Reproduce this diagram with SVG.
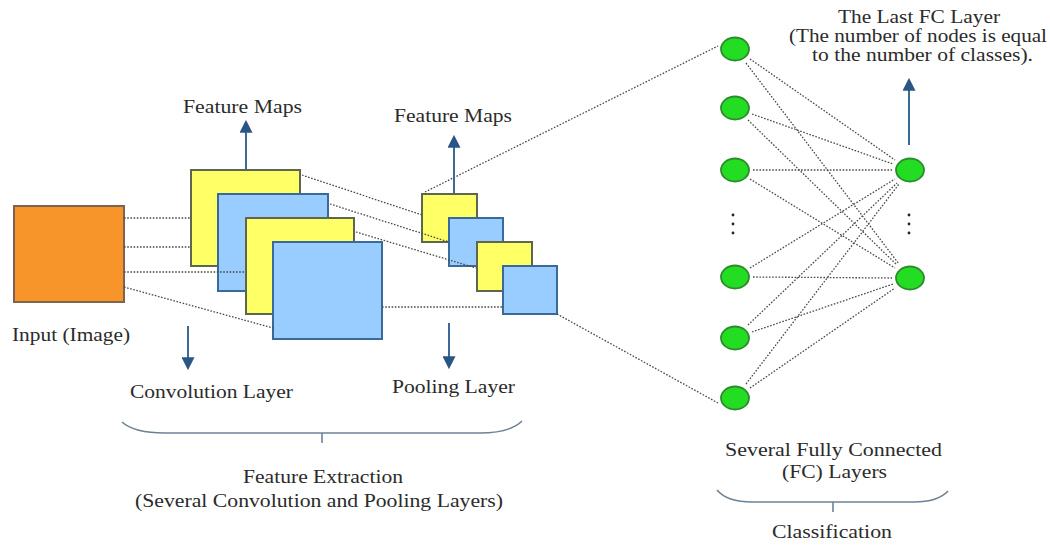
<svg xmlns="http://www.w3.org/2000/svg" width="1050" height="546" viewBox="0 0 1050 546">
<style>
.bg{fill:#ffffff}
.t{font-family:"Liberation Serif","Times New Roman",serif;font-size:19px;fill:#2b2b2b}
.orange{fill:#F7942A;stroke:#7E6450;stroke-width:2}
.yellow{fill:#FFFF66;stroke:#5E6650;stroke-width:2}
.blue{fill:#99CCFF;stroke:#3A6A9A;stroke-width:2}
.node{fill:#22DD22;stroke:#2F8A2F;stroke-width:1.8}
.dot{stroke:#4a4a4a;stroke-width:1.3;stroke-dasharray:1.6 1.6;fill:none}
.arr{stroke:#3C6A96;stroke-width:2;fill:none}
.brace{stroke:#6E8296;stroke-width:1.6;fill:none}
.ell{fill:#222}
</style>
<defs>
<marker id="ah" viewBox="0 0 12 12" refX="10" refY="6" markerWidth="13" markerHeight="13" markerUnits="userSpaceOnUse" orient="auto">
<path d="M0,0 L12,6 L0,12 Z" fill="#2A5585"/>
</marker>
</defs>
<rect class="bg" x="0" y="0" width="1050" height="546"/>

<g id="input"><rect class="orange" x="14" y="206" width="110" height="96"/></g>
<g id="conv-yellow-1"><rect class="yellow" x="191" y="170" width="109" height="96"/></g>
<g id="conv-blue-1"><rect class="blue" x="218" y="194" width="110" height="97"/></g>
<g id="conv-yellow-2"><rect class="yellow" x="246" y="218" width="108" height="96"/></g>
<g id="conv-blue-2"><rect class="blue" x="273" y="242" width="109" height="97"/></g>

<g id="pool-yellow-1"><rect class="yellow" x="422" y="194" width="55" height="48"/></g>
<g id="pool-blue-1"><rect class="blue" x="449" y="218" width="54" height="48"/></g>
<g id="pool-yellow-2"><rect class="yellow" x="477" y="242" width="55" height="49"/></g>
<g id="pool-blue-2"><rect class="blue" x="503" y="266" width="54" height="48"/></g>

<g id="fc-l1"><ellipse class="node" cx="735" cy="49" rx="14" ry="11.5"/></g>
<g id="fc-l2"><ellipse class="node" cx="735" cy="108" rx="14" ry="11.5"/></g>
<g id="fc-l3"><ellipse class="node" cx="735" cy="170" rx="14" ry="11.5"/></g>
<g id="fc-l4"><ellipse class="node" cx="735" cy="277" rx="14" ry="11.5"/></g>
<g id="fc-l5"><ellipse class="node" cx="735" cy="338" rx="14" ry="11.5"/></g>
<g id="fc-l6"><ellipse class="node" cx="735" cy="398" rx="14" ry="11.5"/></g>
<g id="fc-r1"><ellipse class="node" cx="910" cy="170" rx="14" ry="11.5"/></g>
<g id="fc-r2"><ellipse class="node" cx="910" cy="278" rx="14" ry="11.5"/></g>

<g id="ellipsis">
<circle class="ell" cx="733" cy="215" r="1.4"/><circle class="ell" cx="733" cy="224" r="1.4"/><circle class="ell" cx="733" cy="233" r="1.4"/>
<circle class="ell" cx="909" cy="215" r="1.4"/><circle class="ell" cx="909" cy="224" r="1.4"/><circle class="ell" cx="909" cy="233" r="1.4"/>
</g>

<g id="connectors">
<line class="dot" x1="124" y1="218" x2="191" y2="218"/>
<line class="dot" x1="124" y1="247" x2="191" y2="247"/>
<line class="dot" x1="124" y1="272" x2="246" y2="272"/>
<line class="dot" x1="124" y1="287" x2="273" y2="328"/>
<line class="dot" x1="302" y1="175" x2="422" y2="215"/>
<line class="dot" x1="330" y1="204" x2="449" y2="242"/>
<line class="dot" x1="356" y1="232" x2="476" y2="268"/>
<line class="dot" x1="382" y1="307" x2="503" y2="307"/>
<line class="dot" x1="425" y1="192" x2="718" y2="46"/>
<line class="dot" x1="557" y1="314" x2="718" y2="403"/>
<line class="dot" x1="750" y1="59" x2="895" y2="160"/>
<line class="dot" x1="746" y1="63" x2="899" y2="264"/>
<line class="dot" x1="752" y1="114" x2="893" y2="164"/>
<line class="dot" x1="748" y1="120" x2="897" y2="265"/>
<line class="dot" x1="753" y1="170" x2="892" y2="170"/>
<line class="dot" x1="750" y1="179" x2="895" y2="268"/>
<line class="dot" x1="750" y1="268" x2="895" y2="179"/>
<line class="dot" x1="753" y1="277" x2="892" y2="278"/>
<line class="dot" x1="748" y1="325" x2="897" y2="183"/>
<line class="dot" x1="752" y1="332" x2="893" y2="284"/>
<line class="dot" x1="746" y1="384" x2="899" y2="184"/>
<line class="dot" x1="750" y1="388" x2="895" y2="288"/>
<line class="arr" x1="246" y1="170" x2="246" y2="122" marker-end="url(#ah)"/>
<line class="arr" x1="454" y1="194" x2="454" y2="137" marker-end="url(#ah)"/>
<line class="arr" x1="188" y1="326" x2="188" y2="368" marker-end="url(#ah)"/>
<line class="arr" x1="449" y1="323" x2="449" y2="367" marker-end="url(#ah)"/>
<line class="arr" x1="909" y1="145" x2="909" y2="80" marker-end="url(#ah)"/>
<path class="brace" d="M122,422 Q134,433 165,433 L480,433 Q510,433 522,421"/>
<line class="brace" x1="322" y1="433" x2="322" y2="443"/>
<path class="brace" d="M717,490 Q727,502 752,502 L914,502 Q938,502 948,491"/>
<line class="brace" x1="833" y1="502" x2="833" y2="512"/>
</g>

<g id="labels">
<text class="t" x="183" y="113" textLength="119" lengthAdjust="spacingAndGlyphs">Feature Maps</text>
<text class="t" x="394" y="122" textLength="118" lengthAdjust="spacingAndGlyphs">Feature Maps</text>
<text class="t" x="12" y="341" textLength="118" lengthAdjust="spacingAndGlyphs">Input (Image)</text>
<text class="t" x="130" y="398" textLength="163" lengthAdjust="spacingAndGlyphs">Convolution Layer</text>
<text class="t" x="392" y="393" textLength="123" lengthAdjust="spacingAndGlyphs">Pooling Layer</text>
<text class="t" x="838" y="23" textLength="162" lengthAdjust="spacingAndGlyphs">The Last FC Layer</text>
<text class="t" x="789" y="42" textLength="258" lengthAdjust="spacingAndGlyphs">(The number of nodes is equal</text>
<text class="t" x="812" y="61" textLength="221" lengthAdjust="spacingAndGlyphs">to the number of classes).</text>
<text class="t" x="243" y="483" textLength="160" lengthAdjust="spacingAndGlyphs">Feature Extraction</text>
<text class="t" x="135" y="507" textLength="368" lengthAdjust="spacingAndGlyphs">(Several Convolution and Pooling Layers)</text>
<text class="t" x="725" y="456" textLength="217" lengthAdjust="spacingAndGlyphs">Several Fully Connected</text>
<text class="t" x="782" y="478" textLength="105" lengthAdjust="spacingAndGlyphs">(FC) Layers</text>
<text class="t" x="772" y="538" textLength="120" lengthAdjust="spacingAndGlyphs">Classification</text>
</g>
</svg>
